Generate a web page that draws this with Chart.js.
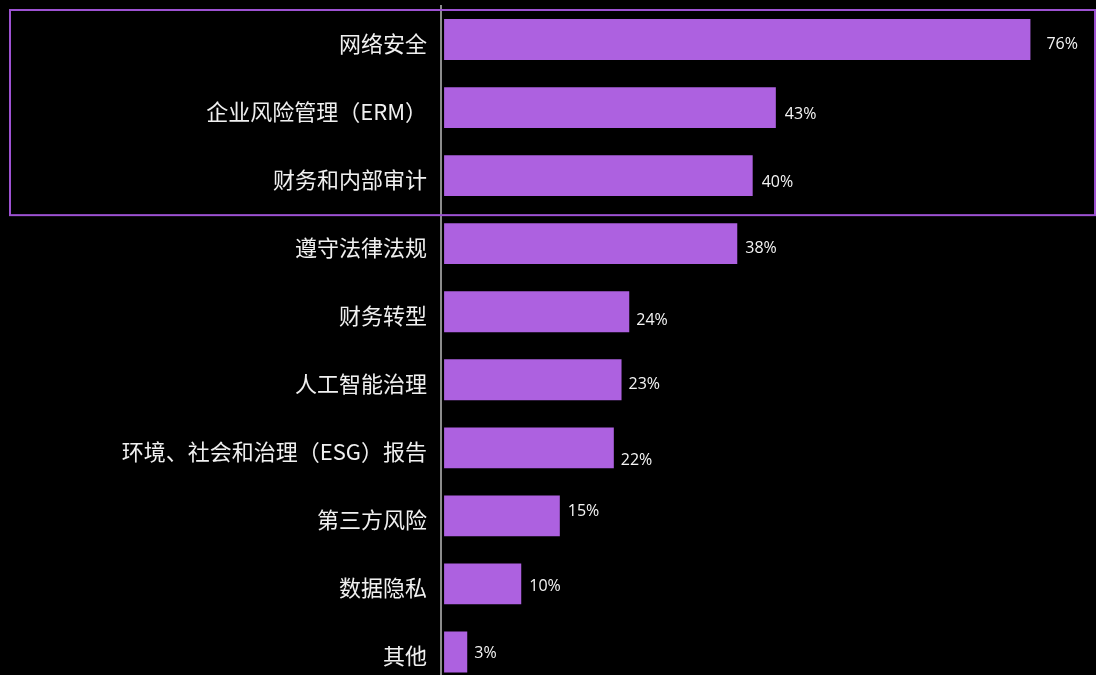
<!DOCTYPE html>
<html>
<head>
<meta charset="utf-8">
<script src="https://cdn.jsdelivr.net/npm/chart.js@4"></script>
<style>
  html, body { margin: 0; padding: 0; background: #000; overflow: hidden; }
  #wrap { width: 1096px; height: 690px; }
</style>
</head>
<body>
<div id="wrap"><canvas id="chart"></canvas></div>
<script>
const topics = ["网络安全", "企业风险管理（ERM）", "财务和内部审计", "遵守法律法规", "财务转型",
     "人工智能治理", "环境、社会和治理（ESG）报告", "第三方风险", "数据隐私", "其他"]
const shares = [76, 43, 40, 38, 24, 23, 22, 15, 10, 3]
// small shifts for the percent labels, [dx, dy]
const labelNudge = [[16, 5], [9, 7], [9, 7], [8, 5], [7, 9], [7, 5], [7, 13], [8, -4], [8, 3], [7, 1]]
const highlighted = 3 // first rows framed by the box

const barColor = "#ad61e0"

const valueLabels = {
     id: "valueLabels",
     afterDatasetsDraw(chart) {
          const ctx = chart.ctx
          const meta = chart.getDatasetMeta(0)
          ctx.save()
          ctx.font = "16px 'Open Sans'"
          ctx.fillStyle = "#f4f4f4"
          ctx.textBaseline = "middle"
          meta.data.forEach((bar, i) => {
               const n = labelNudge[i]
               ctx.fillText(shares[i] + "%", bar.x + n[0], bar.y + n[1])
          })
          ctx.restore()
     }
}

const frameBox = {
     id: "frameBox",
     afterDraw(chart) {
          const ctx = chart.ctx
          const y = chart.scales.y
          const band = y.getPixelForValue(1) - y.getPixelForValue(0)
          const top = y.getPixelForValue(0) - band / 2 + 4.5
          const bottom = y.getPixelForValue(highlighted - 1) + band / 2 + 5.5
          ctx.save()
          ctx.strokeStyle = "#9d52d2"
          ctx.lineWidth = 2
          ctx.strokeRect(10, top, chart.width - 11, bottom - top)
          ctx.restore()
     }
}

new Chart(document.getElementById("chart"), {
     type: "bar",
     data: {
          labels: topics,
          datasets: [{
               data: shares,
               backgroundColor: barColor,
               borderWidth: 0,
               barPercentage: 0.6,
               categoryPercentage: 1
          }]
     },
     options: {
          indexAxis: "y",
          responsive: true,
          maintainAspectRatio: false,
          animation: false,
          layout: { padding: { top: 5.5, bottom: 4, right: 0, left: 0 } },
          plugins: {
               legend: { display: false },
               tooltip: { enabled: false }
          },
          scales: {
               x: {
                    min: -0.4,
                    max: 84.5,
                    display: false,
                    grid: { display: false }
               },
               y: {
                    afterFit(scale) {
                         scale.width = 441
                         scale.paddingTop = 0
                         scale.paddingBottom = 0
                    },
                    grid: { display: false, drawTicks: false },
                    border: { display: true, color: "#8c8c8c", width: 2 },
                    ticks: {
                         color: "#f0f0f0",
                         padding: 14,
                         labelOffset: 4,
                         font: { family: "'Noto Sans CJK SC'", size: 22 }
                    }
               }
          }
     },
     plugins: [valueLabels, frameBox]
})
</script>
</body>
</html>
